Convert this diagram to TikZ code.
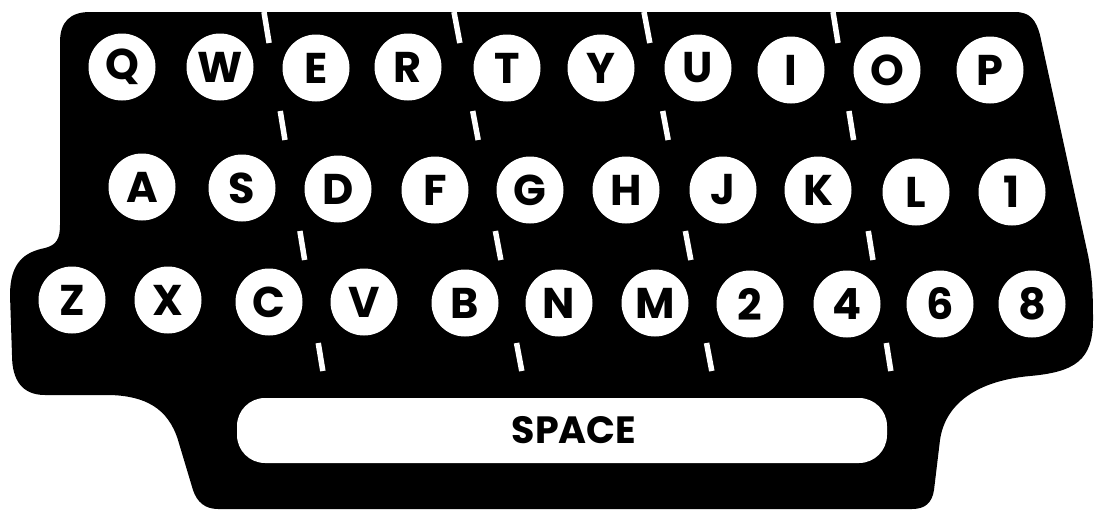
\documentclass[tikz,border=0pt]{standalone}
\usepackage{fontspec}
\setmainfont{Poppins}
\usetikzlibrary{calc}
\tikzset{
  keycap/.style={circle,fill=white,draw=none,minimum size=67pt,inner sep=0pt,
    font=\fontsize{43}{43}\selectfont\bfseries,text=black},
  dashline/.style={white,line width=5.5pt,line cap=butt},
}
\begin{document}
\begin{tikzpicture}[x=1pt,y=-1pt]
\fill[white] (0,0) rectangle (1095,509);
\useasboundingbox (0,0) rectangle (1095,509);
% body
\fill[black] (90,12) -- (1015,12) .. controls (1030,12) and (1036,20) .. (1040,35)
  -- (1088,255) .. controls (1092,275) and (1093,290) .. (1093,320)
  .. controls (1093,360) and (1075,372) .. (1030,376)
  .. controls (975,381) and (945,405) .. (940,440)
  -- (934,490) .. controls (932,503) and (925,509) .. (912,509)
  -- (218,509) .. controls (205,509) and (197,502) .. (193,490)
  -- (178,440) .. controls (168,408) and (145,396) .. (110,395)
  -- (45,395) .. controls (22,395) and (12,380) .. (12,355)
  -- (10,295) .. controls (10,262) and (25,252) .. (45,248)
  .. controls (57,245) and (60,238) .. (60,225)
  -- (60,42) .. controls (60,22) and (70,12) .. (90,12) -- cycle;
% dashed separators
\foreach \xt/\xb in {264/323, 454/522, 644/712, 833/891}{
  \foreach \ya/\yb in {12/43, 111/140, 231/260, 343/371}{
    \draw[dashline] ($(\xt,12)!{(\ya-12)/360}!(\xb,372)$) -- ($(\xt,12)!{(\yb-12)/360}!(\xb,372)$);
  }
}
% row 1
\node[keycap] (kQ) at (122,67) {Q};
\node[keycap] (kW) at (220,67) {W};
\node[keycap] (kE) at (316,68) {E};
\node[keycap] (kR) at (408,67) {R};
\node[keycap] (kT) at (507,68) {T};
\node[keycap] (kY) at (601,68) {Y};
\node[keycap] (kU) at (698,68) {U};
\node[keycap] (kI) at (791,70) {I};
\node[keycap] (kO) at (887,70) {O};
\node[keycap] (kP) at (990,70) {P};
% row 2
\node[keycap] (kA) at (142,187) {A};
\node[keycap] (kS) at (242,188) {S};
\node[keycap] (kD) at (338,189) {D};
\node[keycap] (kF) at (435,190) {F};
\node[keycap] (kG) at (530,190) {G};
\node[keycap] (kH) at (626,190) {H};
\node[keycap] (kJ) at (723,190) {J};
\node[keycap] (kK) at (818,190) {K};
\node[keycap] (kL) at (916,192) {L};
\node[keycap] (k1) at (1012,192) {1};
% row 3
\node[keycap] (kZ) at (72,300) {Z};
\node[keycap] (kX) at (168,300) {X};
\node[keycap] (kC) at (269,302) {C};
\node[keycap] (kV) at (364,302) {V};
\node[keycap] (kB) at (465,303) {B};
\node[keycap] (kN) at (559,303) {N};
\node[keycap] (kM) at (655,303) {M};
\node[keycap] (k2) at (750,304) {2};
\node[keycap] (k4) at (847,304) {4};
\node[keycap] (k6) at (940,304) {6};
\node[keycap] (k8) at (1032,304) {8};
% space bar
\fill[white,rounded corners=28pt] (237,398) rectangle (887,463);
\node[font=\fontsize{38}{38}\selectfont\bfseries,text=black,inner sep=0pt] (space) at (574,430) {SPACE};
\end{tikzpicture}
\end{document}
